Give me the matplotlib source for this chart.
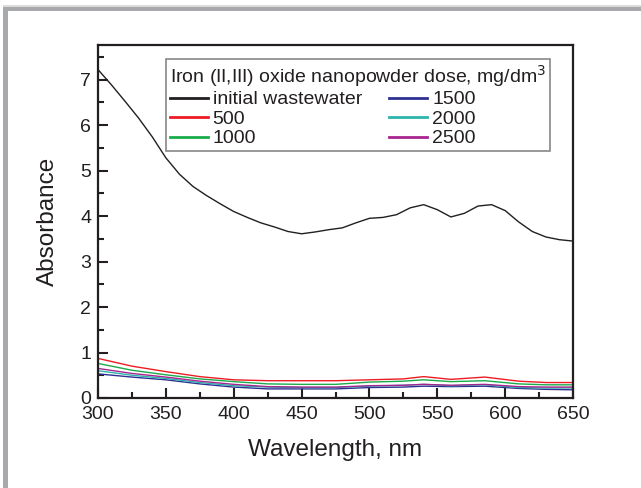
import matplotlib
matplotlib.use("Agg")
import matplotlib.pyplot as plt
from matplotlib.patches import Rectangle
from matplotlib.ticker import MultipleLocator

plt.rcParams['font.family'] = ['Liberation Sans', 'DejaVu Sans']

wl_black = [300, 310, 320, 330, 340, 350, 360, 370, 380, 390, 400, 410, 420, 430, 440,
            450, 460, 470, 480, 490, 500, 510, 520, 530, 540, 550, 560, 570, 580, 590,
            600, 610, 620, 630, 640, 650]
initial = [7.22, 6.88, 6.52, 6.15, 5.74, 5.28, 4.92, 4.65, 4.45, 4.27, 4.10, 3.97, 3.85,
           3.76, 3.66, 3.61, 3.65, 3.70, 3.74, 3.85, 3.95, 3.97, 4.03, 4.18, 4.25, 4.14,
           3.98, 4.06, 4.22, 4.25, 4.12, 3.87, 3.66, 3.54, 3.48, 3.45]

wl = [300, 325, 350, 375, 400, 425, 450, 475, 500, 525, 540, 560, 585, 610, 630, 650]
d500 = [.87, .70, .58, .47, .40, .38, .38, .38, .40, .42, .47, .41, .46, .37, .34, .34]
d1000 = [.76, .61, .51, .42, .36, .31, .30, .30, .35, .37, .40, .36, .38, .31, .29, .29]
d1500 = [.53, .46, .40, .31, .24, .20, .20, .20, .23, .24, .26, .25, .26, .21, .19, .18]
d2000 = [.60, .50, .43, .34, .27, .24, .23, .23, .26, .28, .30, .27, .29, .23, .22, .22]
d2500 = [.65, .54, .46, .37, .30, .25, .24, .24, .27, .28, .30, .28, .30, .25, .24, .24]

labels = ['initial wastewater', '500', '1000', '1500', '2000', '2500']
colors = ['#231f20', '#ed1c24', '#1aab4b', '#2e3192', '#2bb5ad', '#a8258f']
legend_title = 'Iron (II,III) oxide nanopowder dose, mg/dm$^3$'

txt = '#231f20'
fig = plt.figure(figsize=(6.41, 4.88), dpi=100)
W, H = 641, 488

# page frame
for (x0, w, h, fc) in [(3, 638, H - 4.5, '#dcdcdc'), (3, 638, H - 6.5, '#a7a9ac'),
                       (8, 633, H - 11, 'white')]:
    fig.patches.append(Rectangle((x0 / W, 0), w / W, h / H, transform=fig.transFigure,
                                 facecolor=fc, edgecolor='none', zorder=-10))

ax = fig.add_axes([98 / W, 90 / H, 475 / W, 353 / H])
ax.set_zorder(5)
ax.patch.set_alpha(0)
series = [(wl_black, initial), (wl, d500), (wl, d1000), (wl, d1500), (wl, d2000), (wl, d2500)]
for (x, y), lab, c in zip(series, labels, colors):
    ax.plot(x, y, color=c, lw=1.0, label=lab)

ax.set_xlim(300, 650)
ax.set_ylim(0, 7.76)
ax.xaxis.set_major_locator(MultipleLocator(50))
ax.xaxis.set_minor_locator(MultipleLocator(25))
ax.yaxis.set_major_locator(MultipleLocator(1))
ax.yaxis.set_minor_locator(MultipleLocator(0.5))
ax.tick_params(which='both', direction='in', top=False, right=False, color=txt, width=1.5)
ax.tick_params(which='major', length=7, labelsize=14, labelcolor=txt)
ax.tick_params(axis='x', which='major', pad=6)
ax.tick_params(axis='y', which='major', pad=5)
ax.tick_params(which='minor', length=4)
for s in ax.spines.values():
    s.set_linewidth(1.6)
    s.set_color(txt)

ax.set_xlabel('Wavelength, nm', fontsize=17.5, color=txt, labelpad=11)
ax.set_ylabel('Absorbance', fontsize=17.5, color=txt, labelpad=15)

leg = ax.legend(ncol=2, title=legend_title, fontsize=14, title_fontsize=14,
                loc='upper left', bbox_to_anchor=(166 / W, 1 - 59 / H),
                bbox_transform=fig.transFigure, frameon=True, fancybox=False,
                edgecolor='#888888', framealpha=1, borderpad=0.2, labelspacing=0.1,
                handlelength=1.95, handletextpad=0.25, columnspacing=1.4, borderaxespad=0)
leg._legend_box.align = 'left'
leg.get_frame().set_linewidth(1.2)
for t in leg.get_texts():
    t.set_color(txt)
leg.get_title().set_color(txt)
for h in leg.get_lines():
    h.set_linewidth(2.0)

fig.savefig('out.png', dpi=100)
